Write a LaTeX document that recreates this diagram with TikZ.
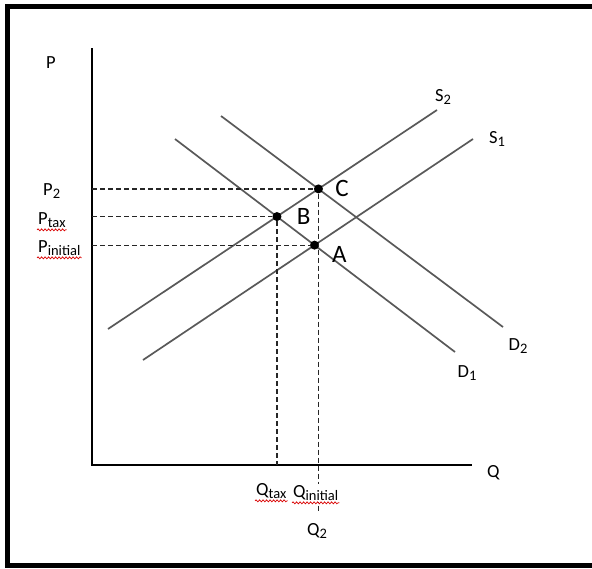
\documentclass[tikz,border=0pt]{standalone}
\usepackage{fontspec}
\setmainfont{Carlito}
\usetikzlibrary{positioning,decorations.pathmorphing}
\newcommand{\lowsub}[1]{\raisebox{-0.4ex}{\fontsize{14.5}{16}\selectfont #1}}

\begin{document}
\begin{tikzpicture}[
    x=1pt, y=-1pt,
    axis/.style={line width=1.3pt},
    curve/.style={draw=black!65, line width=1.7pt},
    guide/.style={dashed, dash pattern=on 5pt off 3pt, line width=1.2pt, black!85},
    lab/.style={font=\fontsize{18.5}{21}\selectfont, inner sep=1pt},
    pt/.style={circle, fill=black, inner sep=0pt, minimum size=9pt},
    ptlab/.style={font=\fontsize{25}{28}\selectfont, inner sep=1pt},
    typo/.style={draw=red!85!black, line width=0.7pt, decorate, decoration={snake, amplitude=1pt, segment length=3.5pt}}
]
\useasboundingbox (0,0) rectangle (592,568);
% frame
\draw[line width=5pt] (592,6.5) -- (7.5,6.5) -- (7.5,565.5) -- (592,565.5);

% axes
\coordinate (o) at (92,465);
\coordinate (ptop) at (92,48);
\coordinate (qend) at (472,465);
\draw[axis] (ptop) -- (o) -- (qend);
\node[lab, anchor=base west] (pname) at (45,68) {P};
\node[lab, anchor=base west] (qname) at (486,477) {Q};

% supply and demand
\coordinate (s1a) at (143,360); \coordinate (s1b) at (473,139);
\coordinate (s2a) at (108,329); \coordinate (s2b) at (437,110);
\coordinate (d1a) at (175,139); \coordinate (d1b) at (455,352);
\coordinate (d2a) at (221,116); \coordinate (d2b) at (503,327);
\draw[curve] (s1a) -- (s1b);
\draw[curve] (s2a) -- (s2b);
\draw[curve] (d1a) -- (d1b);
\draw[curve] (d2a) -- (d2b);
\node[lab] (s1) at (497,139) {S\lowsub{1}};
\node[lab] (s2) at (443,97) {S\lowsub{2}};
\node[lab] (d1) at (467,373) {D\lowsub{1}};
\node[lab] (d2) at (518,346) {D\lowsub{2}};

% equilibria
\node[pt] (a) at (intersection of s1a--s1b and d1a--d1b) {};
\node[pt] (b) at (intersection of s2a--s2b and d1a--d1b) {};
\node[pt] (c) at (intersection of s2a--s2b and d2a--d2b) {};
\coordinate (qlow) at (c |- 0,513);

\draw[guide] (c -| o) -- (c);
\draw[guide] (b -| o) -- (b);
\draw[guide] (a -| o) -- (a);
\draw[guide] (b) -- (b |- o);
\draw[guide] (c) -- (qlow);

\node[ptlab, right=11pt of c] (clab) {C};
\node[ptlab, right=14pt of b] (blab) {B};
\node[ptlab, below right=-3pt and 13pt of a] (alab) {A};

% prices and quantities
\node[lab, anchor=base west] (p2) at (42,195) {P\lowsub{2}};
\node[lab, anchor=base west] (ptax) at (37,224) {P\lowsub{tax}};
\node[lab, anchor=base west] (pini) at (37,252) {P\lowsub{initial}};
\node[lab, anchor=base west] (qtax) at (255,495) {Q\lowsub{tax}};
\node[lab, anchor=base west, fill=white] (qini) at (292,497) {Q\lowsub{initial}};
\node[lab, anchor=base west] (q2) at (306,535) {Q\lowsub{2}};

% spell-check marks
\draw[typo] ([yshift=-1pt]ptax.south west) -- ([yshift=-1pt]ptax.south east);
\draw[typo] ([yshift=-1pt]pini.south west) -- ([yshift=-1pt]pini.south east);
\draw[typo] ([yshift=-1pt]qtax.south west) -- ([yshift=-1pt]qtax.south east);
\draw[typo] ([yshift=-1pt]qini.south west) -- ([yshift=-1pt]qini.south east);
\end{tikzpicture}
\end{document}
